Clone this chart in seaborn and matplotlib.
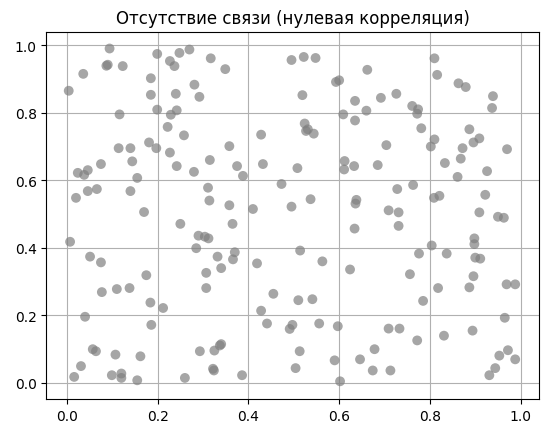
import matplotlib
matplotlib.use("Agg")
import matplotlib.pyplot as plt
import seaborn as sns
import pandas as pd

x_vals = [0.094,0.199,0.227,0.237,0.248,0.270,0.317,0.087,0.090,0.123,0.036,0.185,0.004,0.185,0.240,0.281,0.292,0.199,0.229,0.242,0.116,0.222,0.258,0.181,0.197,0.114,0.140,0.227,0.144,0.242,0.280,0.075,0.024,0.038,0.046,0.155,0.315,0.311,0.314,0.066,0.046,0.020,0.140,0.170,
0.349,0.495,0.522,0.548,0.662,0.593,0.600,0.519,0.635,0.609,0.635,0.660,0.524,0.527,0.531,0.544,0.428,0.358,0.375,0.388,0.432,0.508,0.612,0.611,0.633,0.473,0.358,0.410,0.495,0.537,0.638,0.636,
0.810,0.816,0.863,0.879,0.939,0.937,0.692,0.726,0.761,0.774,0.772,0.781,0.887,0.810,0.802,0.909,0.896,0.872,0.970,0.704,0.868,0.833,0.685,0.926,0.861,0.763,0.728,0.809,0.821,0.922,0.709,0.731,0.909,
0.250,0.290,0.285,0.007,0.051,0.075,0.175,0.077,0.110,0.138,0.184,0.212,0.040,0.186,0.057,0.064,0.107,0.162,0.293,0.031,0.016,0.099,0.120,0.120,0.155,0.260,
0.365,0.312,0.304,0.634,0.370,0.366,0.332,0.340,0.307,0.419,0.514,0.563,0.624,0.307,0.455,0.510,0.541,0.428,0.441,0.497,0.491,0.556,0.597,0.340,0.337,0.325,0.513,0.590,0.646,0.324,0.322,0.386,0.504,0.602,
0.731,0.950,0.963,0.898,0.898,0.804,0.776,0.837,0.900,0.911,0.756,0.896,0.818,0.887,0.969,0.988,0.785,0.965,0.709,0.733,0.772,0.831,0.894,0.678,0.953,0.972,0.988,0.944,0.931,0.674,0.713]

y_vals = [0.990,0.974,0.953,0.938,0.977,0.987,0.961,0.939,0.942,0.938,0.915,0.902,0.865,0.853,0.856,0.883,0.847,0.809,0.794,0.807,0.795,0.758,0.733,0.712,0.695,0.695,0.695,0.682,0.656,0.642,0.625,0.648,0.622,0.616,0.630,0.607,0.660,0.578,0.540,0.574,0.568,0.548,0.568,0.506,
0.929,0.956,0.965,0.962,0.927,0.891,0.896,0.852,0.835,0.795,0.777,0.806,0.768,0.746,0.751,0.738,0.735,0.701,0.642,0.613,0.648,0.636,0.657,0.632,0.642,0.589,0.526,0.515,0.522,0.544,0.542,0.531,
0.961,0.912,0.887,0.876,0.849,0.814,0.844,0.856,0.820,0.810,0.797,0.754,0.751,0.721,0.700,0.724,0.712,0.695,0.692,0.704,0.664,0.651,0.645,0.627,0.610,0.586,0.574,0.548,0.554,0.557,0.511,0.505,0.505,
0.471,0.436,0.399,0.418,0.374,0.357,0.319,0.269,0.278,0.281,0.238,0.222,0.196,0.172,0.100,0.094,0.084,0.079,0.094,0.050,0.018,0.023,0.028,0.015,0.008,0.015,
0.471,0.428,0.433,0.457,0.387,0.366,0.374,0.340,0.326,0.354,0.392,0.360,0.336,0.281,0.264,0.245,0.248,0.214,0.176,0.172,0.160,0.176,0.168,0.115,0.111,0.096,0.094,0.067,0.070,0.037,0.042,0.023,0.044,0.005,
0.465,0.492,0.489,0.428,0.411,0.407,0.383,0.383,0.371,0.368,0.322,0.316,0.281,0.283,0.292,0.292,0.243,0.193,0.161,0.161,0.126,0.140,0.155,0.100,0.081,0.097,0.070,0.044,0.023,0.037,0.037]

title = "Отсутствие связи (нулевая корреляция)"

df = pd.DataFrame({"x": x_vals, "y": y_vals})

fig, ax = plt.subplots(figsize=(5.47, 4.35), dpi=100)
sns.scatterplot(data=df, x="x", y="y", ax=ax, color="gray", alpha=0.7, s=50, edgecolor="none")
ax.set_title(title, fontsize=12)
ax.set_xlabel("")
ax.set_ylabel("")
ax.set_xlim(-0.045, 1.04)
ax.set_ylim(-0.048, 1.04)
ax.grid(True, color="#b0b0b0", linewidth=0.8)
ax.set_axisbelow(True)
fig.subplots_adjust(left=0.085, right=0.985, bottom=0.08, top=0.925)
fig.savefig("out.png", dpi=100)
